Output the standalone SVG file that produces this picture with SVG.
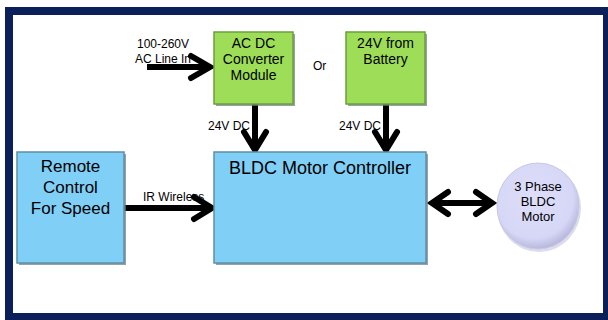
<svg xmlns="http://www.w3.org/2000/svg" width="608" height="320" viewBox="0 0 608 320">
<defs>
<radialGradient id="motorGrad" cx="0.45" cy="0.4" r="0.6">
<stop offset="0" stop-color="#dedefa"/>
<stop offset="0.8" stop-color="#d6d6f6"/>
<stop offset="1" stop-color="#b8b8dc"/>
</radialGradient>
<style>
.frame{fill:#ffffff;stroke:#0b1f5b;stroke-width:8}
.green{fill:#9ddd57;stroke:#6c9e3c;stroke-width:1.5}
.blue{fill:#80cff7;stroke:#5f8ea4;stroke-width:1.5}
.shadow{fill:#6a7a80;opacity:0.7}
.t{font-family:"Liberation Sans",Arial,sans-serif;fill:#000000;text-anchor:middle}
.lbl{font-family:"Liberation Sans",Arial,sans-serif;fill:#000000;font-size:12px}
.ar{fill:none;stroke:#000000;stroke-width:6;stroke-linecap:round;stroke-linejoin:miter}
.sh{fill:none;stroke:#000000;stroke-width:6}
</style>
</defs>
<rect class="frame" x="9" y="11" width="598" height="306"/>

<g id="connectors">
<g id="ac-in">
<line class="sh" x1="147" y1="67" x2="209" y2="67"/>
<path class="ar" d="M191,56 L210,67 L191,78"/>
</g>
<g id="acdc-to-ctrl">
<line class="sh" x1="255" y1="104" x2="255" y2="148"/>
<path class="ar" d="M244,132 L255,150 L266,132"/>
</g>
<g id="batt-to-ctrl">
<line class="sh" x1="386" y1="104" x2="386" y2="148"/>
<path class="ar" d="M375,132 L386,150 L397,132"/>
</g>
<g id="ir-link">
<line class="sh" x1="124" y1="208" x2="210" y2="208"/>
<path class="ar" d="M194,197 L212,208 L194,219"/>
</g>
<g id="ctrl-motor">
<line class="sh" x1="436" y1="203" x2="488" y2="203"/>
<path class="ar" d="M448,192 L432,203 L448,214"/>
<path class="ar" d="M476,192 L492,203 L476,214"/>
</g>
</g>

<g id="acdc">
<rect class="shadow" x="216" y="34" width="79" height="72"/>
<rect class="green" x="214" y="32" width="79" height="72"/>
<text class="t" font-size="14" x="253.5" y="48">AC DC</text>
<text class="t" font-size="14" x="253.5" y="64">Converter</text>
<text class="t" font-size="14" x="253.5" y="80">Module</text>
</g>

<g id="battery">
<rect class="shadow" x="348" y="34" width="79" height="72"/>
<rect class="green" x="346" y="32" width="79" height="72"/>
<text class="t" font-size="14" x="385.5" y="48">24V from</text>
<text class="t" font-size="14" x="385.5" y="64">Battery</text>
</g>

<g id="remote">
<rect class="shadow" x="19" y="154" width="107" height="111"/>
<rect class="blue" x="17" y="152" width="107" height="111"/>
<text class="t" font-size="17" x="70.5" y="172">Remote</text>
<text class="t" font-size="17" x="70.5" y="193">Control</text>
<text class="t" font-size="17" x="70.5" y="214">For Speed</text>
</g>

<g id="controller">
<rect class="shadow" x="216" y="154" width="212" height="111"/>
<rect class="blue" x="214" y="152" width="212" height="111"/>
<text class="t" font-size="18" x="320" y="174">BLDC Motor Controller</text>
</g>

<g id="motor">
<ellipse cx="539" cy="208" rx="42" ry="44" fill="#c4c4e0" opacity="0.6"/>
<ellipse cx="538" cy="206" rx="41" ry="43" fill="url(#motorGrad)" stroke="#c8c8e6" stroke-width="1"/>
<text class="t" font-size="13" x="538" y="191">3 Phase</text>
<text class="t" font-size="13" x="538" y="206">BLDC</text>
<text class="t" font-size="13" x="538" y="221">Motor</text>
</g>

<g id="labels">
<text class="lbl" x="137" y="48">100-260V</text>
<text class="lbl" x="135" y="63">AC Line In</text>
<text class="lbl" x="313" y="70">Or</text>
<text class="lbl" x="208" y="130">24V DC</text>
<text class="lbl" x="339" y="130">24V DC</text>
<text class="lbl" x="143" y="201">IR Wireless</text>
</g>
</svg>
